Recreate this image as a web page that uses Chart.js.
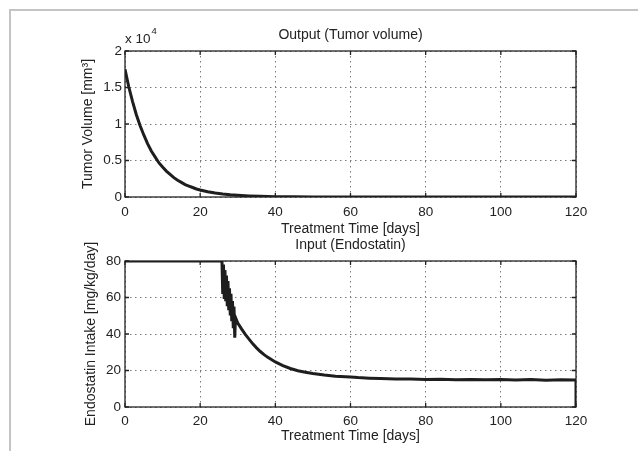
<!DOCTYPE html>
<html><head><meta charset="utf-8">
<script src="https://cdn.jsdelivr.net/npm/chart.js@4/dist/chart.umd.min.js"></script>
<style>
html,body{margin:0;padding:0;background:#fff;}
#wrap{position:relative;width:638px;height:451px;overflow:hidden;background:#fff;}
#frame{position:absolute;left:9px;top:9px;width:640px;height:450px;border-left:2px solid #c4c4c4;border-top:2px solid #c4c4c4;}
canvas{position:absolute;left:0;top:0;}
</style></head><body>
<div id="wrap"><div id="frame"></div>
<canvas id="c1" width="638" height="451"></canvas>
<canvas id="c2" width="638" height="451"></canvas>
</div>
<script>
// ---- data ----
const tumorDays   = [0,1,2,3,4,5,6,7,8,9,10,11,12,13,14,15,16,17,18,19,20,22,24,26,28,30,33,36,40,45,50,60,80,100,120];
const tumorVolume = [1.75,1.51,1.31,1.13,0.98,0.85,0.73,0.63,0.55,0.47,0.41,0.355,0.31,0.265,0.23,0.20,0.17,0.15,0.13,0.11,0.095,0.072,0.054,0.040,0.030,0.023,0.015,0.009,0.005,0.002,0.001,0,0,0,0]; // x10^4 mm^3
const doseDays   = [0,25.8,26.0,26.2,26.4,26.6,26.8,27.0,27.2,27.4,27.6,27.8,28.0,28.2,28.4,28.6,28.8,29.0,29.2,29.4,30,31,32,33,34,35,36,37,38,40,42,44,46,48,50,53,56,60,62,65,68,72,76,80,84,88,92,96,100,104,108,112,116,120,120];
const doseValues = [80,80,62,78,60,75,58,72,56,69,53,65,51,62,47,58,44,55,38,49,46,42.8,39.8,37.2,34.6,32.4,30.4,28.7,27.2,24.7,22.7,21.1,19.9,19.0,18.3,17.5,16.9,16.4,16.1,15.8,15.6,15.4,15.3,15.1,15.2,14.9,15.1,14.9,15.0,14.8,15.0,14.7,14.9,14.8,0];
const xTicks     = [0,20,40,60,80,100,120];
const tumorTicks = [0,0.5,1,1.5,2];
const doseTicks  = [0,20,40,60,80];

Chart.defaults.font.family = '"Liberation Sans", Arial, Helvetica, sans-serif';
Chart.defaults.color = '#222';

const frameTicks = {
  id: 'frameTicks',
  beforeDatasetsDraw(chart) {
    const {ctx, chartArea: a, scales: {x, y}} = chart;
    ctx.save();
    ctx.strokeStyle = '#222';
    ctx.lineWidth = 1.3;
    ctx.beginPath();
    x.ticks.forEach(t => {
      const px = x.getPixelForValue(t.value);
      ctx.moveTo(px, a.bottom); ctx.lineTo(px, a.bottom - 4);
      ctx.moveTo(px, a.top); ctx.lineTo(px, a.top + 4);
    });
    y.ticks.forEach(t => {
      const py = y.getPixelForValue(t.value);
      ctx.moveTo(a.left, py); ctx.lineTo(a.left + 4, py);
      ctx.moveTo(a.right, py); ctx.lineTo(a.right - 4, py);
    });
    ctx.stroke();
    ctx.strokeRect(a.left, a.top, a.right - a.left, a.bottom - a.top);
    ctx.restore();
  }
};

const exponentLabel = {
  id: 'exponentLabel',
  afterDraw(chart) {
    const {ctx, chartArea: a} = chart;
    ctx.save();
    ctx.fillStyle = '#222';
    ctx.textBaseline = 'middle';
    ctx.textAlign = 'left';
    ctx.font = '13.5px "Liberation Sans", Arial, sans-serif';
    const base = 'x 10';
    ctx.fillText(base, a.left, 39);
    const w = ctx.measureText(base).width;
    ctx.font = '9.5px "Liberation Sans", Arial, sans-serif';
    ctx.fillText('4', a.left + w + 1, 31);
    ctx.restore();
  }
};

function makeChart(id, cfg) {
  return new Chart(document.getElementById(id), {
    type: 'line',
    data: {
      datasets: [{
        data: cfg.xs.map((v, i) => ({x: v, y: cfg.ys[i]})),
        borderColor: '#1e1e1e',
        borderWidth: 3,
        pointRadius: 0,
        tension: 0,
        fill: false
      }]
    },
    options: {
      responsive: false,
      animation: false,
      devicePixelRatio: 1,
      layout: {padding: cfg.pad},
      plugins: {
        legend: {display: false},
        tooltip: {enabled: false},
        title: {
          display: true, text: cfg.title, fullSize: false,
          font: {size: 14, weight: 'normal'}, color: '#222',
          padding: cfg.titlePad
        }
      },
      scales: {
        x: {
          type: 'linear', min: 0, max: 120,
          afterBuildTicks: s => { s.ticks = xTicks.map(v => ({value: v})); },
          afterFit: s => { s.height = cfg.xHeight; },
          ticks: {padding: cfg.xTickPad, font: {size: 13.5}, color: '#222', maxRotation: 0},
          grid: {color: '#7a7a7a', lineWidth: 1, drawTicks: false},
          border: {display: false, dash: [1.5, 3.5]},
          title: {display: true, text: 'Treatment Time [days]', font: {size: 14}, color: '#222', padding: {top: 0, bottom: cfg.xTitlePad}}
        },
        y: {
          type: 'linear', min: cfg.yTicks[0], max: cfg.yTicks[cfg.yTicks.length - 1],
          afterBuildTicks: s => { s.ticks = cfg.yTicks.map(v => ({value: v})); },
          afterFit: s => { s.width = 51; },
          ticks: {padding: cfg.yTickPad, font: {size: 13.5}, color: '#222', callback: v => String(v)},
          grid: {color: '#7a7a7a', lineWidth: 1, drawTicks: false},
          border: {display: false, dash: [1.5, 3.5]},
          title: {display: true, text: cfg.yTitle, font: {size: 14}, color: '#222', padding: {top: cfg.yTitlePad, bottom: 0}}
        }
      }
    },
    plugins: cfg.plugins
  });
}

makeChart('c1', {
  xs: tumorDays, ys: tumorVolume, yTicks: tumorTicks,
  title: 'Output (Tumor volume)', yTitle: 'Tumor Volume [mm³]',
  pad: {top: 0, left: 74, right: 62, bottom: 209},
  titlePad: {top: 27, bottom: 7.2},
  xHeight: 45, xTickPad: 7, xTitlePad: 4, yTickPad: 3, yTitlePad: 6,
  plugins: [frameTicks, exponentLabel]
});

makeChart('c2', {
  xs: doseDays, ys: doseValues, yTicks: doseTicks,
  title: 'Input (Endostatin)', yTitle: 'Endostatin Intake [mg/kg/day]',
  pad: {top: 220, left: 74, right: 62, bottom: 4},
  titlePad: {top: 16.6, bottom: 7.6},
  xHeight: 40, xTickPad: 6, xTitlePad: 2, yTickPad: 4, yTitlePad: 9,
  plugins: [frameTicks]
});
</script>
</body></html>
